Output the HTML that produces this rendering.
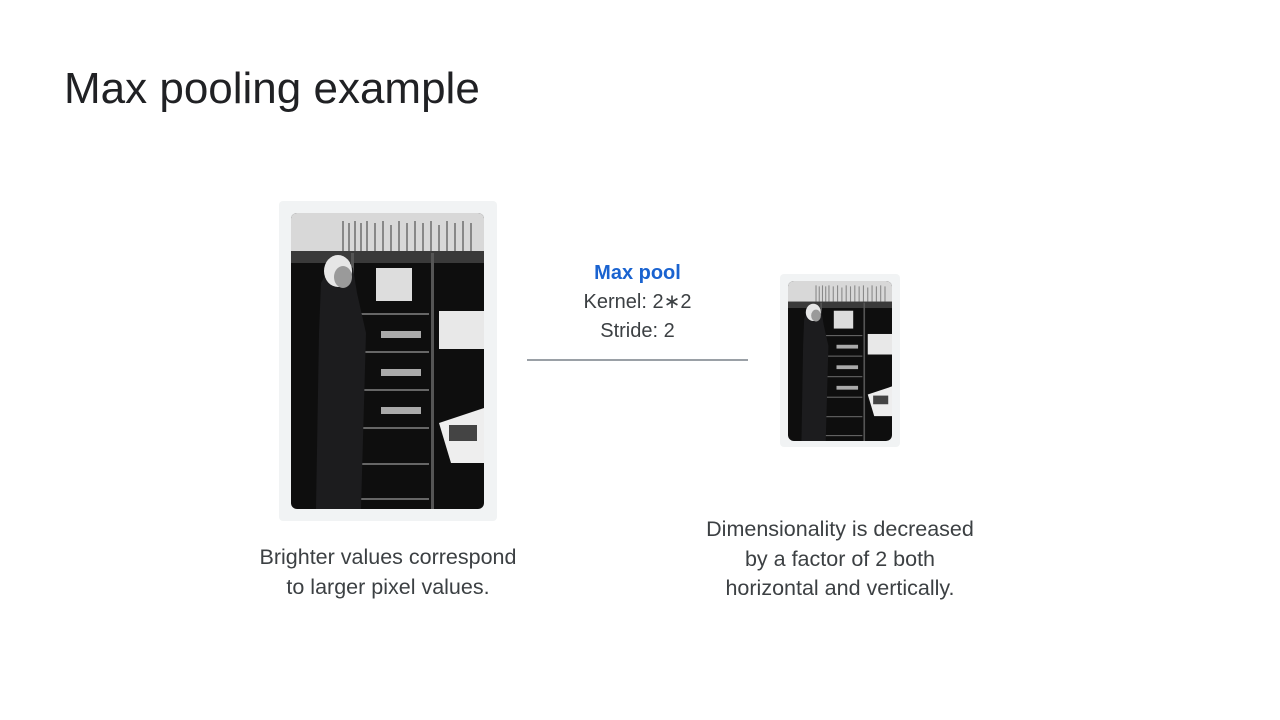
<!DOCTYPE html>
<html><head><meta charset="utf-8"><style>
html,body{margin:0;padding:0;background:#fff;}
body{width:1280px;height:720px;position:relative;overflow:hidden;font-family:"Liberation Sans",Arial,sans-serif;color:#202124;}
.t{position:absolute;}
.frame{position:absolute;background:#f1f3f4;border-radius:4px;}
.photo{position:absolute;border-radius:6px;overflow:hidden;}
.c{text-align:center;font-size:20px;line-height:29px;color:#3c4043;}
.c2{text-align:center;font-size:21.5px;line-height:29.5px;color:#3c4043;}
</style></head><body>
<div class="t" style="left:64px;top:64px;font-size:44px;color:#202124;">Max pooling example</div>

<svg width="0" height="0" style="position:absolute">
<defs>
<g id="ph">
<rect width="193" height="296" fill="#0e0e0e"/>
<rect width="193" height="40" fill="#d8d8d8"/>
<g stroke="#888" stroke-width="2">
<line x1="52" y1="8" x2="52" y2="38"/><line x1="58" y1="10" x2="58" y2="38"/><line x1="64" y1="8" x2="64" y2="38"/><line x1="70" y1="10" x2="70" y2="38"/><line x1="76" y1="8" x2="76" y2="38"/><line x1="84" y1="10" x2="84" y2="38"/><line x1="92" y1="8" x2="92" y2="38"/><line x1="100" y1="12" x2="100" y2="38"/><line x1="108" y1="8" x2="108" y2="38"/><line x1="116" y1="10" x2="116" y2="38"/><line x1="124" y1="8" x2="124" y2="38"/><line x1="132" y1="10" x2="132" y2="38"/><line x1="140" y1="8" x2="140" y2="38"/><line x1="148" y1="12" x2="148" y2="38"/><line x1="156" y1="8" x2="156" y2="38"/><line x1="164" y1="10" x2="164" y2="38"/><line x1="172" y1="8" x2="172" y2="38"/><line x1="180" y1="10" x2="180" y2="38"/>
</g>
<rect y="38" width="193" height="12" fill="#3a3a3a"/>
<rect x="60" y="40" width="3" height="256" fill="#555"/>
<rect x="140" y="40" width="3" height="256" fill="#555"/>
<rect x="85" y="55" width="36" height="33" fill="#ddd"/>
<g fill="#666">
<rect x="68" y="100" width="70" height="2"/><rect x="68" y="138" width="70" height="2"/><rect x="68" y="176" width="70" height="2"/><rect x="68" y="214" width="70" height="2"/><rect x="68" y="250" width="70" height="2"/><rect x="68" y="285" width="70" height="2"/>
</g>
<g fill="#aaa"><rect x="90" y="118" width="40" height="7"/><rect x="90" y="156" width="40" height="7"/><rect x="90" y="194" width="40" height="7"/></g>
<rect x="148" y="98" width="45" height="38" fill="#e8e8e8"/>
<path d="M148 210 L193 195 L193 250 L160 250 Z" fill="#eee"/>
<rect x="158" y="212" width="28" height="16" fill="#444"/>
<path d="M30 70 Q45 40 62 55 L66 80 L75 120 L70 296 L25 296 L28 120 Z" fill="#1c1c1e"/>
<ellipse cx="47" cy="58" rx="14" ry="16" fill="#e6e6e6"/>
<ellipse cx="52" cy="64" rx="9" ry="11" fill="#9a9a9a"/>
</g>
</defs>
</svg>

<div class="frame" style="left:279px;top:201px;width:218px;height:320px;"></div>
<div class="photo" style="left:291px;top:213px;width:193px;height:296px;"><svg width="193" height="296" viewBox="0 0 193 296"><use href="#ph"/></svg></div>

<div class="frame" style="left:780px;top:274px;width:120px;height:173px;"></div>
<div class="photo" style="left:788px;top:281px;width:104px;height:160px;"><svg width="104" height="160" viewBox="0 0 193 296" preserveAspectRatio="none"><use href="#ph"/></svg></div>

<div class="t c" style="left:527px;top:259px;width:221px;">
<div style="color:#1a63d0;font-weight:bold;">Max pool</div>
<div>Kernel: 2∗2</div>
<div>Stride: 2</div>
</div>
<div class="t" style="left:527px;top:359px;width:221px;height:2px;background:#9aa0a6;"></div>

<div class="t c2" style="left:218px;top:543px;width:340px;">Brighter values correspond<br>to larger pixel values.</div>
<div class="t c2" style="left:660px;top:515px;width:360px;">Dimensionality is decreased<br>by a factor of 2 both<br>horizontal and vertically.</div>
</body></html>
